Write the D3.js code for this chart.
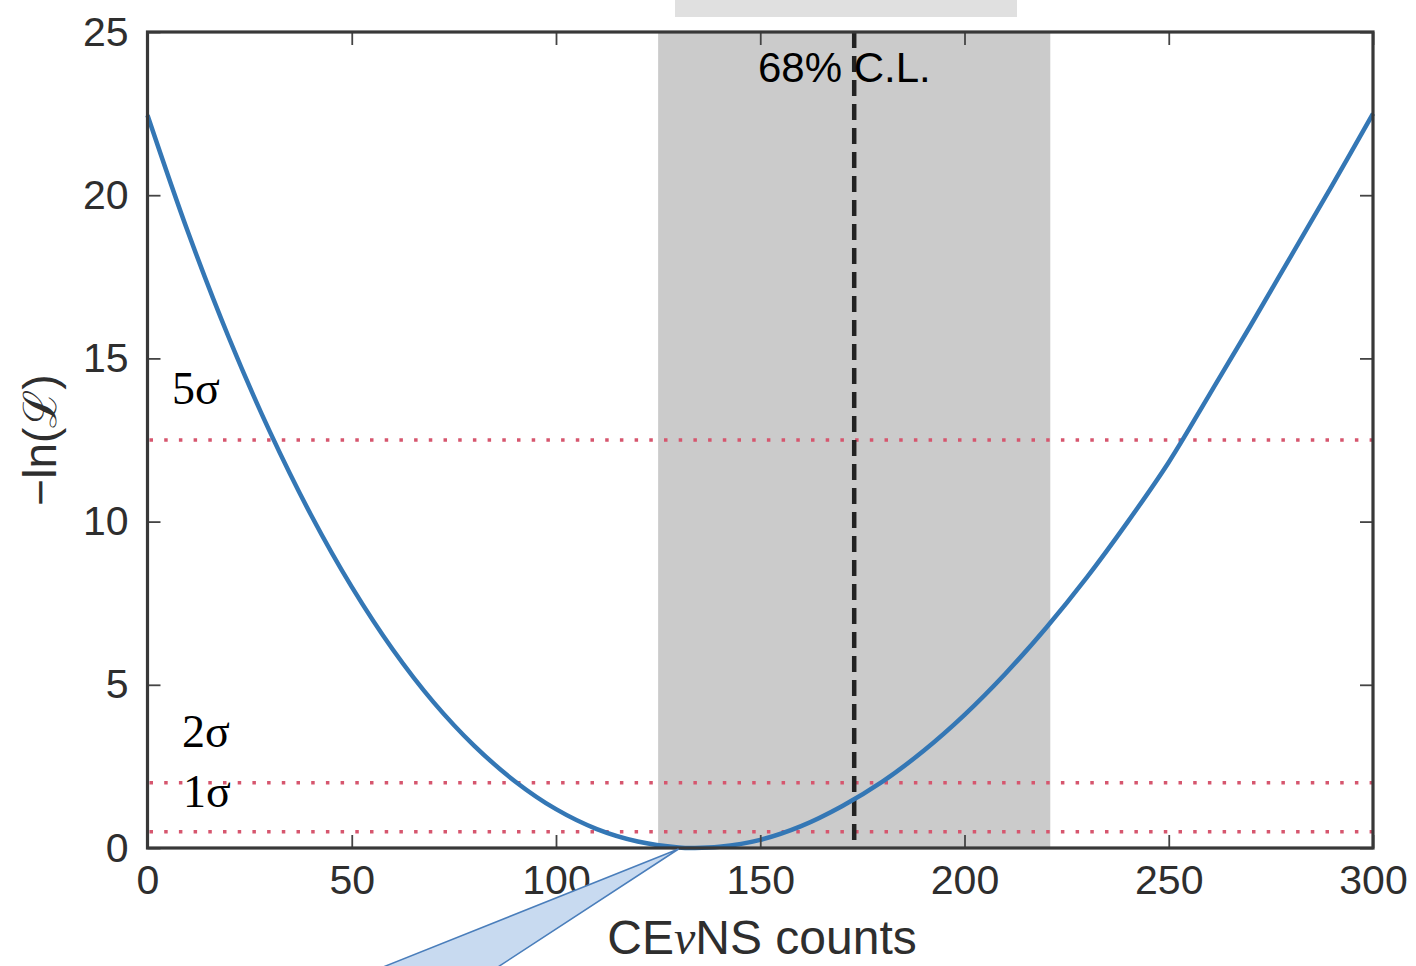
<!DOCTYPE html>
<html>
<head>
<meta charset="utf-8">
<script src="https://cdn.jsdelivr.net/npm/d3@7"></script>
<style>
  html, body { margin: 0; padding: 0; background: #fff; }
  svg { display: block; }
</style>
</head>
<body>
<div id="chart"></div>
<script>
// likelihood curve
var counts = [0, 10, 20, 30, 40, 50, 60, 70, 80, 90, 100, 110, 120, 130, 134, 140, 150, 160, 170, 180, 190, 200, 210, 220, 230, 240, 250, 260, 270, 280, 290, 300];
var negLogL = [22.45, 18.84, 15.61, 12.74, 10.21, 8.0, 6.09, 4.47, 3.13, 2.04, 1.19, 0.58, 0.2, 0.016, 0, 0.036, 0.25, 0.67, 1.28, 2.04, 2.98, 4.08, 5.34, 6.75, 8.3, 10.0, 11.82, 13.9, 16.0, 18.15, 20.3, 22.5];

// significance levels
var sigmaLevels = [0.5, 2, 12.5];
var sigmaNames = ["1σ", "2σ", "5σ"];

// SM prediction and its band
var smPrediction = 173;
var smBand = [125, 221];

var xTicks = [0, 50, 100, 150, 200, 250, 300];
var yTicks = [0, 5, 10, 15, 20, 25];

function drawChart() {
    var width = 1416,
        height = 966;
    var plotLeft = 147.5, plotRight = 1373, plotTop = 32, plotBottom = 848;

    var svg = d3.select("#chart").append("svg")
        .attr("width", width)
        .attr("height", height);

    var x = d3.scaleLinear().domain([0, 300]).range([plotLeft, plotRight]);
    var y = d3.scaleLinear().domain([0, 25]).range([plotBottom, plotTop]);

    // slide leftover box at the top
    svg.append("rect")
        .attr("x", 675).attr("y", 0)
        .attr("width", 342).attr("height", 17)
        .attr("fill", "#e0e0e0");

    // gray band
    svg.append("rect")
        .attr("x", x(smBand[0]))
        .attr("y", plotTop)
        .attr("width", x(smBand[1]) - x(smBand[0]))
        .attr("height", plotBottom - plotTop)
        .attr("fill", "#cbcbcb");

    // dotted sigma lines
    svg.selectAll(".sigma")
        .data(sigmaLevels)
        .enter().append("line")
        .attr("class", "sigma")
        .attr("x1", plotLeft + 2).attr("x2", plotRight)
        .attr("y1", function(d) { return y(d); })
        .attr("y2", function(d) { return y(d); })
        .attr("stroke", "#d6566e")
        .attr("stroke-width", 3.5)
        .attr("stroke-dasharray", "3.5 11.2");

    // dashed prediction line
    svg.append("line")
        .attr("x1", x(smPrediction)).attr("x2", x(smPrediction))
        .attr("y1", plotTop).attr("y2", plotBottom)
        .attr("stroke", "#222")
        .attr("stroke-width", 4.5)
        .attr("stroke-dasharray", "16 8");

    // curve
    var line = d3.line()
        .x(function(d, i) { return x(counts[i]); })
        .y(function(d) { return y(d); })
        .curve(d3.curveCatmullRom);

    svg.append("path")
        .datum(negLogL)
        .attr("d", line)
        .attr("fill", "none")
        .attr("stroke", "#3477b5")
        .attr("stroke-width", 4.5);

    // axes, ticks pointing inwards
    var tickFont = "'Liberation Sans', Arial, Helvetica, sans-serif";

    function styleAxis(g) {
        g.select(".domain").remove();
        g.selectAll(".tick line").attr("stroke", "#444").attr("stroke-width", 1.8);
        g.selectAll(".tick text")
            .attr("fill", "#2e2e2e")
            .style("font-family", tickFont)
            .style("font-size", "41px");
    }

    svg.append("g")
        .attr("transform", "translate(0," + plotBottom + ")")
        .call(d3.axisBottom(x).tickValues(xTicks).tickSize(-13).tickSizeOuter(0).tickPadding(17))
        .call(styleAxis);

    svg.append("g")
        .attr("transform", "translate(0," + plotTop + ")")
        .call(d3.axisTop(x).tickValues(xTicks).tickSize(-13).tickSizeOuter(0).tickFormat(""))
        .call(styleAxis);

    svg.append("g")
        .attr("transform", "translate(" + plotLeft + ",0)")
        .call(d3.axisLeft(y).tickValues(yTicks).tickSize(-13).tickSizeOuter(0).tickPadding(19))
        .call(styleAxis);

    svg.append("g")
        .attr("transform", "translate(" + plotRight + ",0)")
        .call(d3.axisRight(y).tickValues(yTicks).tickSize(-13).tickSizeOuter(0).tickFormat(""))
        .call(styleAxis);

    // frame
    svg.append("rect")
        .attr("x", plotLeft).attr("y", plotTop)
        .attr("width", plotRight - plotLeft).attr("height", plotBottom - plotTop)
        .attr("fill", "none")
        .attr("stroke", "#383838")
        .attr("stroke-width", 3.2);

    // axis titles
    var xTitle = svg.append("text")
        .attr("x", 762).attr("y", 954)
        .attr("text-anchor", "middle")
        .attr("fill", "#2e2e2e")
        .style("font-family", tickFont)
        .style("font-size", "48px");
    xTitle.append("tspan").text("CE");
    xTitle.append("tspan").style("font-family", "'Liberation Serif', 'DejaVu Serif', serif").style("font-style", "italic").text("ν");
    xTitle.append("tspan").text("NS counts");

    var yTitle = svg.append("text")
        .attr("transform", "translate(56,440) rotate(-90)")
        .attr("text-anchor", "middle")
        .attr("fill", "#2e2e2e")
        .style("font-family", tickFont)
        .style("font-size", "46px");
    yTitle.append("tspan").text("−ln(");
    yTitle.append("tspan").style("font-family", "'DejaVu Serif', serif").text("ℒ");
    yTitle.append("tspan").text(")");

    // sigma labels
    var labelShift = [25, 36, 36];
    var labelX = [183, 182, 172];
    svg.selectAll(".sigma-label")
        .data(sigmaLevels)
        .enter().append("text")
        .attr("class", "sigma-label")
        .attr("x", function(d, i) { return labelX[i]; })
        .attr("y", function(d, i) { return y(d) - labelShift[i]; })
        .attr("fill", "#000")
        .style("font-family", "'Liberation Serif', 'Times New Roman', serif")
        .style("font-size", "46px")
        .text(function(d, i) { return sigmaNames[i]; });

    svg.append("text")
        .attr("x", 758).attr("y", 82)
        .attr("fill", "#000")
        .style("font-family", tickFont)
        .style("font-size", "42px")
        .text("68% C.L.");

    // callout pointing at the bottom of the curve
    var tipX = x(130);
    svg.append("polygon")
        .attr("points", [
            [tipX, plotBottom + 1],
            [tipX - 2.487 * (1000 - plotBottom), 1000],
            [tipX - 1.521 * (1000 - plotBottom), 1000]
        ].map(function(p) { return p.join(","); }).join(" "))
        .attr("fill", "#c8daf0")
        .attr("stroke", "#4a7ebb")
        .attr("stroke-width", 1.5);
}

drawChart();
</script>
</body>
</html>
